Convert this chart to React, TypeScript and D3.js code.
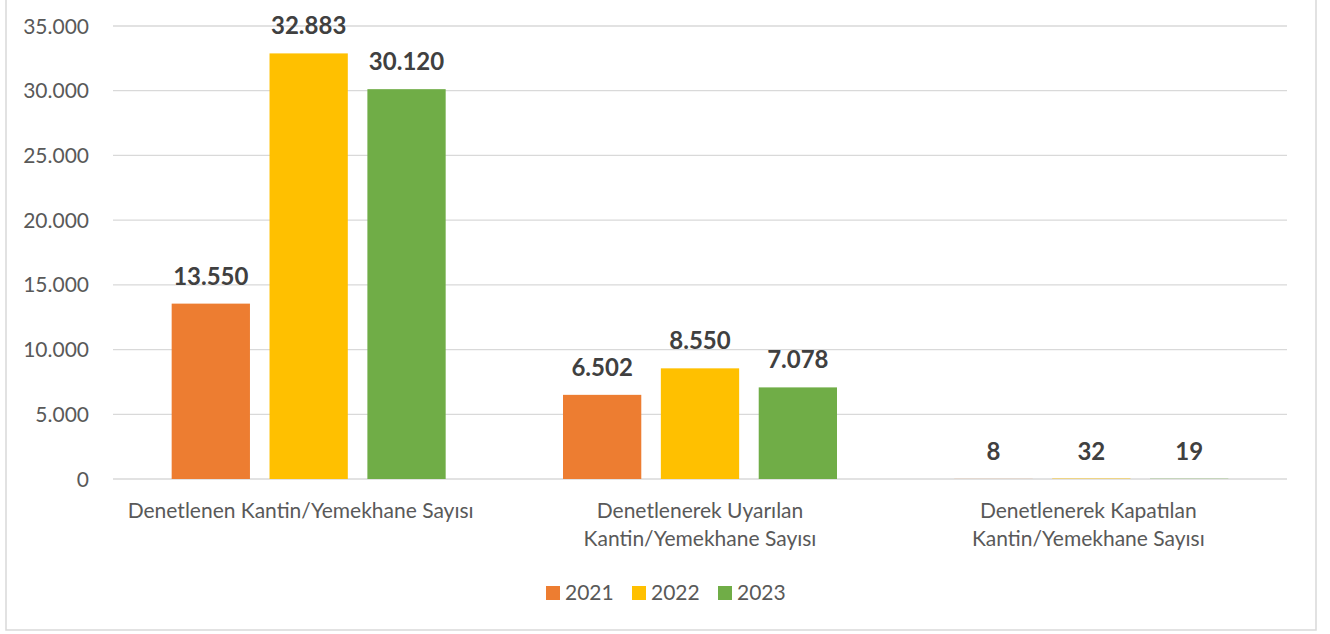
import React from "react";
import * as d3 from "d3";

const categories: string[][] = [
  ["Denetlenen Kantin/Yemekhane Sayısı"],
  ["Denetlenerek Uyarılan", "Kantin/Yemekhane Sayısı"],
  ["Denetlenerek Kapatılan", "Kantin/Yemekhane Sayısı"],
];
const seriesNames = ["2021", "2022", "2023"];
const values2021 = [13550, 6502, 8];
const values2022 = [32883, 8550, 32];
const values2023 = [30120, 7078, 19];
const yTicks = [0, 5000, 10000, 15000, 20000, 25000, 30000, 35000];
const colors = ["#ED7D31", "#FFC000", "#70AD47"];

const fmt = (v: number) => d3.format(",")(v).replace(/,/g, ".");

export default function App() {
  const W = 1330, H = 634;
  const left = 113, right = 1287, top = 26, bottom = 479;
  const series = [values2021, values2022, values2023];
  const x = d3.scaleBand<number>().domain([0, 1, 2]).range([left, right]);
  const inner = d3.scaleBand<number>().domain([0, 1, 2]).range([0, 274]).paddingInner(0.2);
  const groupOffset = (x.bandwidth() - 274) / 2;
  const y = d3.scaleLinear().domain([0, 35000]).range([bottom, top]);
  const font = "Lato, 'Open Sans', sans-serif";
  const legendX = [546, 632, 718];
  const labelShift = [-8, 0, -3];
  return (
    <svg width={W} height={H} style={{ position: "absolute", left: 0, top: 0, background: "#fff" }}>
      <rect x={6} y={-2} width={1310} height={632} fill="#fff" stroke="#D9D9D9" strokeWidth={1.5} />
      {yTicks.map((t) => (
        <g key={t}>
          <line x1={left} x2={right} y1={y(t)} y2={y(t)} stroke="#D9D9D9" strokeWidth={1.3} />
          <text x={89} y={y(t) + 7.5} textAnchor="end" fontFamily={font} fontSize={21} fill="#595959">
            {fmt(t)}
          </text>
        </g>
      ))}
      {series.map((vals, si) =>
        vals.map((v, ci) => {
          const bx = (x(ci) as number) + groupOffset + (inner(si) as number);
          const bw = inner.bandwidth();
          return (
            <g key={`${si}-${ci}`}>
              <rect x={bx} y={y(v)} width={bw} height={bottom - y(v)} fill={colors[si]} />
              <text x={bx + bw / 2} y={y(v) - 19} textAnchor="middle" fontFamily={font} fontWeight="bold" fontSize={24} fill="#404040">
                {fmt(v)}
              </text>
            </g>
          );
        })
      )}
      {categories.map((lines, ci) => {
        const cx = (x(ci) as number) + x.bandwidth() / 2 + labelShift[ci];
        return (
          <text key={ci} x={cx} textAnchor="middle" fontFamily={font} fontSize={21} fill="#595959">
            {lines.map((l, li) => (
              <tspan key={li} x={cx} y={518 + li * 28}>
                {l}
              </tspan>
            ))}
          </text>
        );
      })}
      {seriesNames.map((n, i) => (
        <g key={n}>
          <rect x={legendX[i]} y={586} width={14} height={14} fill={colors[i]} />
          <text x={legendX[i] + 19} y={600} fontFamily={font} fontSize={21} fill="#595959">
            {n}
          </text>
        </g>
      ))}
    </svg>
  );
}
